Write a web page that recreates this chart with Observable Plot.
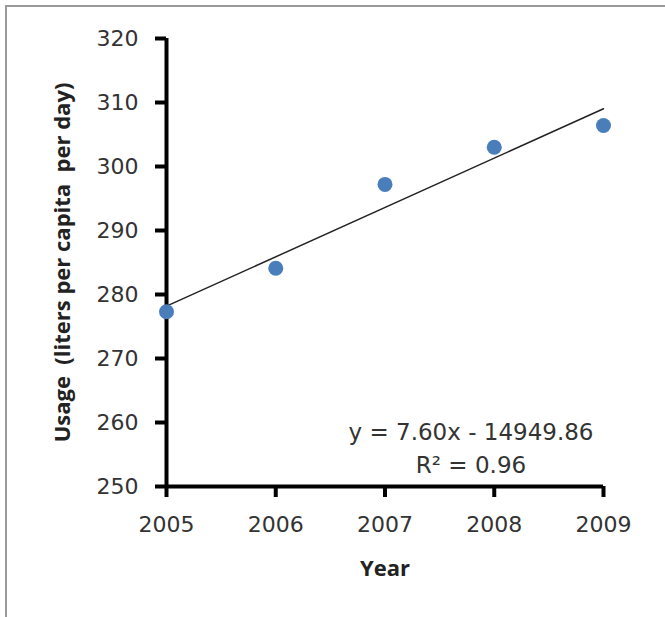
<!DOCTYPE html>
<html>
<head>
<meta charset="utf-8">
<script src="https://cdn.jsdelivr.net/npm/d3@7"></script>
<script src="https://cdn.jsdelivr.net/npm/@observablehq/plot@0.6"></script>
<style>
  html, body { margin: 0; padding: 0; background: #fff; }
  #wrap { position: relative; width: 665px; height: 617px; overflow: hidden; }
  #frame { position: absolute; left: 5px; top: 5px; right: -10px; bottom: -10px;
           border-top: 2px solid #9a9a9a; border-left: 2px solid #9a9a9a; pointer-events: none; }
</style>
</head>
<body>
<div id="wrap"><div id="frame"></div></div>
<script>
const years = [2005, 2006, 2007, 2008, 2009];
const usage = [277.3, 284.1, 297.2, 303.0, 306.4];
const yTicks = [250, 260, 270, 280, 290, 300, 310, 320];
const xTicks = [2005, 2006, 2007, 2008, 2009];
const yLabel = "Usage  (liters per capita  per day)";
const xLabel = "Year";
const equation = "y = 7.60x - 14949.86";
const r2 = "R² = 0.96";

const data = years.map((y, i) => ({year: y, usage: usage[i]}));

const chart = Plot.plot({
  width: 665,
  height: 617,
  marginLeft: 166,
  marginRight: 62,
  marginTop: 38,
  marginBottom: 131,
  style: {fontFamily: "'DejaVu Sans', sans-serif", fontSize: "22px", color: "#333", background: "transparent"},
  x: {domain: [2005, 2009]},
  y: {domain: [250, 320]},
  marks: [
    Plot.axisY({ticks: yTicks, tickSize: 11, tickPadding: 17, strokeWidth: 4, stroke: "#000", tickFormat: d => String(d), label: null, fill: "#333"}),
    Plot.axisX({ticks: xTicks, tickSize: 11, tickPadding: 19, strokeWidth: 4, stroke: "#000", tickFormat: d => String(d), label: null, fill: "#333"}),
    Plot.ruleX([2005], {stroke: "#000", strokeWidth: 4}),
    Plot.ruleY([250], {stroke: "#000", strokeWidth: 4}),
    Plot.linearRegressionY(data, {x: "year", y: "usage", stroke: "#222", strokeWidth: 1.5, ci: 0}),
    Plot.dot(data, {x: "year", y: "usage", r: 7.5, fill: "#4a7ebb", stroke: "none"}),
    Plot.text([yLabel], {frameAnchor: "left", dx: -104, rotate: -90, textAnchor: "middle", lineAnchor: "middle", fontFamily: "'Open Sans', sans-serif", fontWeight: "bold", fontSize: 22, fill: "#222"}),
    Plot.text([xLabel], {frameAnchor: "bottom", dy: 82, lineAnchor: "middle", fontFamily: "'Open Sans', sans-serif", fontWeight: "bold", fontSize: 22, fill: "#222"}),
    Plot.text([equation], {frameAnchor: "bottom", dx: 86, dy: -54, lineAnchor: "middle", fontSize: 23, fill: "#333"}),
    Plot.text([r2], {frameAnchor: "bottom", dx: 86, dy: -21, lineAnchor: "middle", fontSize: 23, fill: "#333"})
  ]
});
document.getElementById("wrap").prepend(chart);
</script>
</body>
</html>
